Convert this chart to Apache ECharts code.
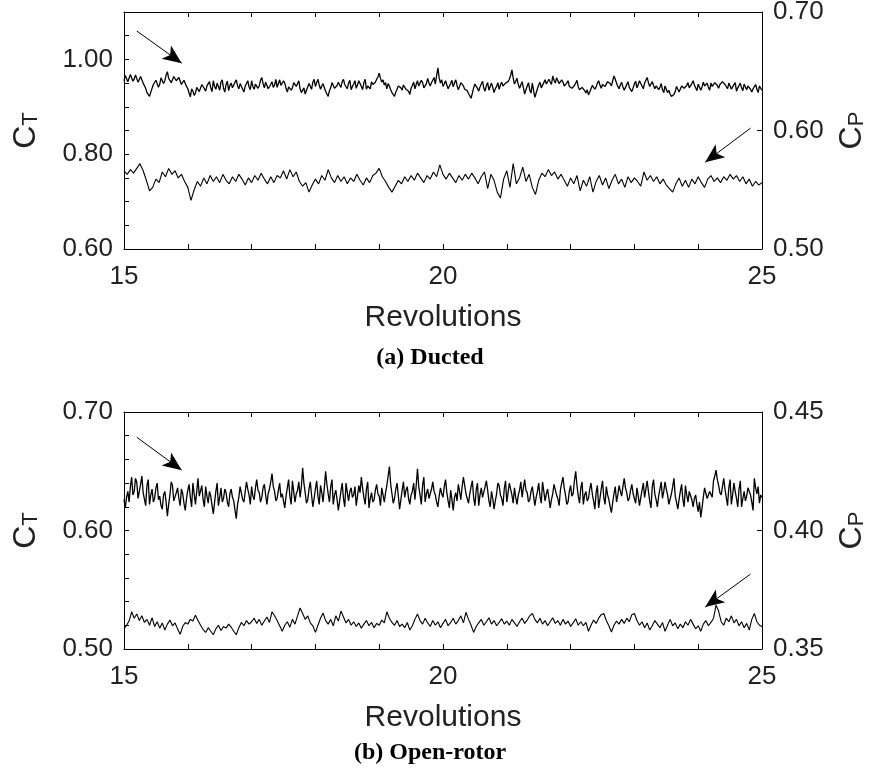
<!DOCTYPE html>
<html>
<head>
<meta charset="utf-8">
<script src="https://cdn.jsdelivr.net/npm/echarts@6/dist/echarts.min.js"></script>
<style>
  html, body { margin: 0; padding: 0; background: #fff; }
  #chart { width: 877px; height: 775px; }
</style>
</head>
<body>
<div id="chart"></div>
<script>
// ---- Sampling of the time histories (revolutions) ----
const ductedCtStart = 15, ductedCtStep = 0.02;
const ductedCpStart = 15, ductedCpStep = 0.05;
const openCtStart = 15, openCtStep = 0.02;
const openCpStart = 15, openCpStep = 0.04;

// ---- Tick labels ----
const revolutionTicks = ['15', '20', '25'];
const ductedCtTicks = ['0.60', '0.80', '1.00'];
const ductedCpTicks = ['0.50', '0.60', '0.70'];
const openCtTicks = ['0.50', '0.60', '0.70'];
const openCpTicks = ['0.35', '0.40', '0.45'];

// ---- (a) Ducted: thrust coefficient ----
const ductedCt = [
  0.955, 0.966, 0.962, 0.953, 0.957, 0.968, 0.965, 0.954, 0.959, 0.967, 0.963, 0.952, 0.956, 0.964, 0.961, 0.950, 0.947, 0.939, 0.930, 0.926,
  0.922, 0.931, 0.935, 0.947, 0.944, 0.956, 0.952, 0.941, 0.948, 0.961, 0.958, 0.949, 0.955, 0.967, 0.974, 0.960, 0.962, 0.951, 0.957, 0.964,
  0.966, 0.955, 0.951, 0.962, 0.958, 0.947, 0.944, 0.956, 0.952, 0.943, 0.938, 0.929, 0.921, 0.938, 0.933, 0.924, 0.929, 0.941, 0.945, 0.932,
  0.936, 0.947, 0.951, 0.938, 0.933, 0.944, 0.948, 0.953, 0.940, 0.932, 0.955, 0.943, 0.937, 0.950, 0.946, 0.935, 0.952, 0.957, 0.939, 0.931,
  0.947, 0.954, 0.934, 0.945, 0.950, 0.940, 0.943, 0.952, 0.957, 0.944, 0.938, 0.949, 0.946, 0.937, 0.931, 0.944, 0.949, 0.955, 0.942, 0.936,
  0.955, 0.943, 0.937, 0.948, 0.951, 0.939, 0.944, 0.956, 0.962, 0.949, 0.940, 0.952, 0.948, 0.938, 0.935, 0.947, 0.953, 0.941, 0.946, 0.958,
  0.941, 0.949, 0.957, 0.945, 0.944, 0.955, 0.950, 0.939, 0.931, 0.942, 0.946, 0.935, 0.940, 0.951, 0.954, 0.943, 0.947, 0.955, 0.938, 0.930,
  0.933, 0.940, 0.927, 0.935, 0.938, 0.949, 0.946, 0.937, 0.952, 0.958, 0.943, 0.951, 0.958, 0.946, 0.937, 0.944, 0.949, 0.940, 0.933, 0.927,
  0.922, 0.934, 0.940, 0.951, 0.947, 0.939, 0.936, 0.945, 0.952, 0.946, 0.941, 0.953, 0.958, 0.947, 0.944, 0.938, 0.950, 0.956, 0.936, 0.943,
  0.948, 0.955, 0.939, 0.946, 0.955, 0.949, 0.943, 0.936, 0.951, 0.958, 0.937, 0.944, 0.946, 0.938, 0.953, 0.947, 0.944, 0.952, 0.958, 0.963,
  0.971, 0.960, 0.952, 0.957, 0.946, 0.951, 0.938, 0.949, 0.944, 0.936, 0.930, 0.927, 0.922, 0.931, 0.937, 0.944, 0.947, 0.940, 0.935, 0.946,
  0.950, 0.937, 0.941, 0.933, 0.926, 0.939, 0.945, 0.952, 0.938, 0.947, 0.955, 0.944, 0.942, 0.956, 0.951, 0.940, 0.936, 0.949, 0.960, 0.950,
  0.944, 0.951, 0.956, 0.962, 0.948, 0.966, 0.982, 0.961, 0.950, 0.957, 0.943, 0.948, 0.955, 0.946, 0.938, 0.944, 0.949, 0.956, 0.942, 0.950,
  0.957, 0.945, 0.936, 0.943, 0.951, 0.955, 0.944, 0.937, 0.940, 0.934, 0.928, 0.924, 0.918, 0.929, 0.940, 0.948, 0.946, 0.939, 0.933, 0.942,
  0.948, 0.954, 0.939, 0.933, 0.945, 0.951, 0.935, 0.943, 0.950, 0.941, 0.930, 0.938, 0.943, 0.951, 0.937, 0.946, 0.952, 0.944, 0.941, 0.950,
  0.946, 0.953, 0.958, 0.966, 0.978, 0.961, 0.948, 0.954, 0.960, 0.947, 0.939, 0.946, 0.953, 0.940, 0.927, 0.936, 0.944, 0.951, 0.935, 0.929,
  0.950, 0.934, 0.920, 0.929, 0.938, 0.946, 0.952, 0.940, 0.944, 0.951, 0.957, 0.948, 0.946, 0.958, 0.954, 0.947, 0.965, 0.956, 0.950, 0.961,
  0.958, 0.949, 0.945, 0.957, 0.952, 0.944, 0.941, 0.950, 0.955, 0.943, 0.947, 0.939, 0.936, 0.945, 0.950, 0.956, 0.942, 0.936, 0.933, 0.941,
  0.940, 0.934, 0.929, 0.936, 0.925, 0.931, 0.938, 0.945, 0.948, 0.937, 0.942, 0.950, 0.955, 0.946, 0.939, 0.947, 0.951, 0.943, 0.946, 0.953,
  0.957, 0.949, 0.944, 0.955, 0.965, 0.958, 0.950, 0.943, 0.938, 0.946, 0.952, 0.942, 0.935, 0.941, 0.947, 0.953, 0.941, 0.937, 0.932, 0.940,
  0.948, 0.954, 0.940, 0.947, 0.955, 0.949, 0.945, 0.938, 0.950, 0.956, 0.962, 0.951, 0.943, 0.948, 0.953, 0.945, 0.938, 0.944, 0.948, 0.936,
  0.941, 0.949, 0.936, 0.930, 0.944, 0.937, 0.930, 0.935, 0.927, 0.922, 0.918, 0.926, 0.932, 0.943, 0.940, 0.931, 0.935, 0.944, 0.946, 0.939,
  0.938, 0.945, 0.951, 0.940, 0.943, 0.949, 0.955, 0.946, 0.940, 0.934, 0.948, 0.952, 0.935, 0.942, 0.952, 0.944, 0.946, 0.950, 0.941, 0.935,
  0.950, 0.943, 0.944, 0.951, 0.953, 0.945, 0.939, 0.947, 0.948, 0.953, 0.955, 0.947, 0.943, 0.938, 0.950, 0.944, 0.937, 0.942, 0.946, 0.951,
  0.933, 0.940, 0.945, 0.950, 0.940, 0.934, 0.948, 0.942, 0.936, 0.944, 0.943, 0.937, 0.931, 0.938, 0.940, 0.947, 0.937, 0.930, 0.944, 0.939, 0.935
];

// ---- (a) Ducted: power coefficient ----
const ductedCp = [
  0.566, 0.563, 0.567, 0.564, 0.568, 0.572, 0.566, 0.558, 0.549, 0.552,
  0.559, 0.556, 0.565, 0.561, 0.568, 0.563, 0.566, 0.560, 0.563, 0.557,
  0.552, 0.541, 0.550, 0.557, 0.553, 0.560, 0.555, 0.562, 0.557, 0.561,
  0.556, 0.563, 0.558, 0.555, 0.561, 0.557, 0.563, 0.559, 0.554, 0.560,
  0.556, 0.562, 0.558, 0.564, 0.559, 0.555, 0.561, 0.556, 0.562, 0.560,
  0.566, 0.559, 0.567, 0.561, 0.565, 0.557, 0.553, 0.556, 0.548, 0.554,
  0.559, 0.555, 0.562, 0.558, 0.567, 0.560, 0.556, 0.562, 0.557, 0.561,
  0.555, 0.560, 0.557, 0.563, 0.558, 0.554, 0.560, 0.556, 0.562, 0.564,
  0.568, 0.561, 0.557, 0.552, 0.548, 0.553, 0.558, 0.555, 0.561, 0.557,
  0.562, 0.558, 0.564, 0.560, 0.556, 0.562, 0.559, 0.565, 0.561, 0.571,
  0.563, 0.559, 0.564, 0.560, 0.556, 0.562, 0.558, 0.563, 0.559, 0.564,
  0.560, 0.555, 0.561, 0.565, 0.551, 0.563, 0.558, 0.548, 0.543, 0.559,
  0.566, 0.552, 0.572, 0.555, 0.560, 0.569, 0.557, 0.563, 0.552, 0.546,
  0.558, 0.564, 0.561, 0.567, 0.562, 0.565, 0.559, 0.563, 0.558, 0.553,
  0.560, 0.555, 0.562, 0.549, 0.558, 0.553, 0.561, 0.548, 0.557, 0.562,
  0.554, 0.560, 0.551, 0.558, 0.563, 0.555, 0.559, 0.552, 0.561, 0.556,
  0.560, 0.557, 0.553, 0.565, 0.558, 0.562, 0.557, 0.561, 0.555, 0.559,
  0.554, 0.551, 0.548, 0.555, 0.560, 0.553, 0.558, 0.552, 0.559, 0.555,
  0.561, 0.556, 0.552, 0.559, 0.562, 0.557, 0.560, 0.556, 0.561, 0.558,
  0.563, 0.559, 0.562, 0.557, 0.561, 0.555, 0.559, 0.553, 0.557, 0.554,
  0.556
];

// ---- (b) Open-rotor: thrust coefficient ----
const openCt = [
  0.626, 0.619, 0.628, 0.633, 0.624, 0.637, 0.645, 0.630, 0.633, 0.644, 0.641, 0.627, 0.628, 0.639, 0.646, 0.632, 0.631, 0.621, 0.638, 0.643,
  0.622, 0.630, 0.635, 0.624, 0.627, 0.636, 0.640, 0.626, 0.629, 0.621, 0.618, 0.630, 0.633, 0.624, 0.612, 0.622, 0.630, 0.641, 0.638, 0.625,
  0.625, 0.632, 0.636, 0.627, 0.621, 0.635, 0.631, 0.623, 0.617, 0.627, 0.634, 0.639, 0.628, 0.620, 0.640, 0.631, 0.622, 0.633, 0.644, 0.629,
  0.630, 0.638, 0.626, 0.620, 0.637, 0.629, 0.623, 0.633, 0.629, 0.621, 0.614, 0.624, 0.633, 0.640, 0.621, 0.628, 0.636, 0.624, 0.627, 0.635,
  0.632, 0.624, 0.620, 0.631, 0.635, 0.628, 0.625, 0.617, 0.610, 0.622, 0.628, 0.637, 0.636, 0.626, 0.624, 0.633, 0.641, 0.635, 0.630, 0.622,
  0.637, 0.629, 0.626, 0.636, 0.643, 0.634, 0.632, 0.624, 0.628, 0.636, 0.639, 0.630, 0.622, 0.631, 0.635, 0.641, 0.648, 0.637, 0.633, 0.625,
  0.627, 0.634, 0.640, 0.628, 0.631, 0.625, 0.619, 0.629, 0.636, 0.643, 0.629, 0.622, 0.642, 0.633, 0.624, 0.631, 0.634, 0.641, 0.628, 0.637,
  0.653, 0.640, 0.632, 0.623, 0.626, 0.635, 0.641, 0.630, 0.620, 0.627, 0.635, 0.642, 0.629, 0.622, 0.638, 0.632, 0.624, 0.636, 0.650, 0.639,
  0.631, 0.624, 0.637, 0.643, 0.622, 0.630, 0.634, 0.626, 0.617, 0.625, 0.633, 0.640, 0.627, 0.620, 0.640, 0.632, 0.625, 0.633, 0.636, 0.628,
  0.630, 0.637, 0.621, 0.629, 0.638, 0.632, 0.645, 0.636, 0.628, 0.622, 0.635, 0.641, 0.619, 0.627, 0.632, 0.624, 0.626, 0.634, 0.639, 0.631,
  0.629, 0.621, 0.636, 0.630, 0.624, 0.632, 0.638, 0.646, 0.654, 0.639, 0.631, 0.623, 0.627, 0.635, 0.640, 0.629, 0.618, 0.626, 0.634, 0.641,
  0.628, 0.634, 0.637, 0.627, 0.622, 0.630, 0.633, 0.640, 0.626, 0.638, 0.652, 0.637, 0.630, 0.622, 0.638, 0.645, 0.624, 0.631, 0.635, 0.627,
  0.627, 0.635, 0.641, 0.633, 0.630, 0.624, 0.620, 0.629, 0.636, 0.631, 0.628, 0.637, 0.643, 0.632, 0.625, 0.619, 0.634, 0.626, 0.617, 0.628,
  0.632, 0.625, 0.639, 0.633, 0.626, 0.637, 0.645, 0.638, 0.631, 0.627, 0.623, 0.631, 0.637, 0.642, 0.628, 0.621, 0.634, 0.640, 0.621, 0.630,
  0.636, 0.628, 0.629, 0.637, 0.642, 0.634, 0.625, 0.620, 0.633, 0.627, 0.618, 0.625, 0.631, 0.640, 0.638, 0.630, 0.627, 0.621, 0.635, 0.642,
  0.624, 0.632, 0.640, 0.635, 0.630, 0.623, 0.636, 0.628, 0.622, 0.630, 0.634, 0.641, 0.628, 0.636, 0.643, 0.634, 0.632, 0.624, 0.626, 0.633,
  0.637, 0.629, 0.621, 0.628, 0.633, 0.640, 0.629, 0.623, 0.641, 0.633, 0.625, 0.631, 0.635, 0.627, 0.619, 0.626, 0.631, 0.639, 0.638, 0.630,
  0.627, 0.621, 0.634, 0.640, 0.645, 0.636, 0.630, 0.622, 0.624, 0.633, 0.638, 0.629, 0.631, 0.642, 0.650, 0.638, 0.629, 0.623, 0.636, 0.641,
  0.622, 0.630, 0.633, 0.625, 0.627, 0.635, 0.640, 0.631, 0.625, 0.618, 0.632, 0.638, 0.619, 0.627, 0.635, 0.642, 0.628, 0.622, 0.637, 0.630,
  0.626, 0.620, 0.615, 0.624, 0.631, 0.637, 0.624, 0.630, 0.638, 0.633, 0.629, 0.637, 0.644, 0.636, 0.632, 0.625, 0.627, 0.634, 0.639, 0.631,
  0.630, 0.623, 0.636, 0.629, 0.621, 0.628, 0.634, 0.640, 0.628, 0.635, 0.642, 0.633, 0.625, 0.619, 0.637, 0.643, 0.631, 0.626, 0.620, 0.629,
  0.635, 0.641, 0.627, 0.633, 0.641, 0.635, 0.630, 0.622, 0.623, 0.631, 0.637, 0.644, 0.629, 0.624, 0.618, 0.626, 0.633, 0.639, 0.626, 0.620,
  0.638, 0.630, 0.624, 0.633, 0.632, 0.626, 0.620, 0.627, 0.630, 0.622, 0.616, 0.624, 0.611, 0.619, 0.628, 0.636, 0.635, 0.627, 0.626, 0.633,
  0.634, 0.628, 0.642, 0.646, 0.651, 0.643, 0.638, 0.632, 0.630, 0.637, 0.644, 0.635, 0.628, 0.621, 0.636, 0.643, 0.622, 0.630, 0.640, 0.633,
  0.627, 0.620, 0.635, 0.642, 0.620, 0.627, 0.633, 0.625, 0.629, 0.636, 0.637, 0.630, 0.624, 0.617, 0.644, 0.636, 0.631, 0.637, 0.623, 0.630, 0.628
];

// ---- (b) Open-rotor: power coefficient ----
const openCp = [
  0.3585, 0.3600, 0.3618, 0.3657, 0.3630, 0.3648, 0.3620, 0.3640, 0.3612, 0.3625,
  0.3600, 0.3632, 0.3595, 0.3615, 0.3588, 0.3610, 0.3580, 0.3605, 0.3622, 0.3598,
  0.3610, 0.3585, 0.3562, 0.3595, 0.3612, 0.3605, 0.3625, 0.3618, 0.3642, 0.3620,
  0.3600, 0.3582, 0.3570, 0.3590, 0.3575, 0.3560, 0.3585, 0.3600, 0.3578, 0.3595,
  0.3588, 0.3605, 0.3592, 0.3575, 0.3560, 0.3590, 0.3612, 0.3598, 0.3620, 0.3605,
  0.3615, 0.3630, 0.3608, 0.3625, 0.3600, 0.3618, 0.3635, 0.3612, 0.3657, 0.3640,
  0.3620, 0.3598, 0.3575, 0.3600, 0.3615, 0.3592, 0.3625, 0.3605, 0.3640, 0.3673,
  0.3650, 0.3625, 0.3640, 0.3610, 0.3598, 0.3570, 0.3600, 0.3630, 0.3652, 0.3620,
  0.3605, 0.3625, 0.3598, 0.3640, 0.3618, 0.3660, 0.3635, 0.3610, 0.3625, 0.3600,
  0.3615, 0.3595, 0.3610, 0.3588, 0.3605, 0.3620, 0.3598, 0.3612, 0.3590, 0.3608,
  0.3600, 0.3622, 0.3610, 0.3657, 0.3630, 0.3612, 0.3600, 0.3620, 0.3595, 0.3605,
  0.3590, 0.3612, 0.3580, 0.3598, 0.3625, 0.3648, 0.3620, 0.3605, 0.3630, 0.3610,
  0.3595, 0.3620, 0.3600, 0.3615, 0.3590, 0.3608, 0.3625, 0.3598, 0.3612, 0.3630,
  0.3605, 0.3620, 0.3640, 0.3610, 0.3655, 0.3625, 0.3600, 0.3570, 0.3595, 0.3610,
  0.3625, 0.3600, 0.3615, 0.3632, 0.3605, 0.3620, 0.3598, 0.3612, 0.3628, 0.3605,
  0.3618, 0.3600, 0.3625, 0.3610, 0.3595, 0.3615, 0.3630, 0.3608, 0.3622, 0.3640,
  0.3650, 0.3625, 0.3610, 0.3630, 0.3605, 0.3620, 0.3598, 0.3615, 0.3632, 0.3608,
  0.3620, 0.3600, 0.3625, 0.3605, 0.3618, 0.3595, 0.3610, 0.3628, 0.3600, 0.3615,
  0.3598, 0.3612, 0.3575, 0.3600, 0.3622, 0.3608, 0.3630, 0.3645, 0.3650, 0.3620,
  0.3598, 0.3572, 0.3600, 0.3618, 0.3605, 0.3625, 0.3608, 0.3630, 0.3615, 0.3645,
  0.3650, 0.3620, 0.3600, 0.3615, 0.3590, 0.3610, 0.3580, 0.3598, 0.3620, 0.3605,
  0.3590, 0.3612, 0.3575, 0.3600, 0.3625, 0.3598, 0.3610, 0.3585, 0.3605, 0.3590,
  0.3615, 0.3600, 0.3625, 0.3605, 0.3585, 0.3598, 0.3575, 0.3605, 0.3620, 0.3598,
  0.3612, 0.3630, 0.3685, 0.3660, 0.3615, 0.3600, 0.3630, 0.3615, 0.3640, 0.3610,
  0.3625, 0.3598, 0.3615, 0.3590, 0.3608, 0.3580, 0.3625, 0.3650, 0.3615, 0.3600,
  0.3595
];

// ---- Annotation arrows: [tail, head] in data coordinates ----
const ductedCtArrow = [[15.2, 1.060], [15.905, 0.992]];
const ductedCpArrow = [[24.82, 0.602], [24.11, 0.5733]];
const openCtArrow = [[15.2, 0.6787], [15.905, 0.6509]];
const openCpArrow = [[24.82, 0.3816], [24.11, 0.3677]];

const SANS = '"Liberation Sans", Arial, Helvetica, sans-serif';
const SERIF = '"Liberation Serif", "Times New Roman", serif';

function toXY(values, start, step) {
  return values.map((v, i) => [start + i * step, v]);
}

function labelFrom(list) {
  return function (v) {
    const s = v.toFixed(2);
    return list.indexOf(s) >= 0 ? s : '';
  };
}

function revLabel(v) {
  const r = Math.round(v);
  return (Math.abs(v - r) < 1e-6 && revolutionTicks.indexOf(String(r)) >= 0) ? String(r) : '';
}

const axisLineStyle = { lineStyle: { color: '#000', width: 1 } };
const tickStyle = { inside: true, length: 5, lineStyle: { color: '#000', width: 1 } };

function xAxes(gridIndex) {
  return [
    {
      type: 'value', gridIndex, position: 'bottom', min: 15, max: 25, interval: 1,
      axisLine: axisLineStyle, axisTick: tickStyle, splitLine: { show: false },
      axisLabel: { formatter: revLabel, color: '#222', fontSize: 26, fontFamily: SANS, margin: 15 },
      name: 'Revolutions', nameLocation: 'middle', nameGap: 54,
      nameTextStyle: { color: '#222', fontSize: 30, fontFamily: SANS }
    },
    {
      type: 'value', gridIndex, position: 'top', min: 15, max: 25, interval: 1,
      axisLine: axisLineStyle, axisTick: tickStyle, splitLine: { show: false },
      axisLabel: { show: false }
    }
  ];
}

function yAxis(gridIndex, side, min, max, interval, ticks, sub, gap) {
  return {
    type: 'value', gridIndex, position: side, min, max, interval,
    axisLine: { show: true, lineStyle: { color: '#000', width: 1 } },
    axisTick: tickStyle, splitLine: { show: false },
    axisLabel: { formatter: labelFrom(ticks), color: '#222', fontSize: 26, fontFamily: SANS, margin: 11 },
    name: '{c|C}{s|' + sub + '}', nameLocation: 'middle', nameRotate: 90, nameGap: gap,
    nameTextStyle: {
      rich: {
        c: { fontSize: 32, fontFamily: SANS, color: '#222' },
        s: { fontSize: 22, fontFamily: SANS, color: '#222', verticalAlign: 'bottom', lineHeight: 2 }
      }
    }
  };
}

function arrow(pts) {
  return {
    silent: true, animation: false,
    symbol: ['none', 'arrow'],
    lineStyle: { color: '#000', width: 1, type: 'solid' },
    label: { show: false },
    emphasis: { disabled: true },
    data: [[
      { coord: pts[0], symbol: 'none' },
      { coord: pts[1], symbol: 'arrow', symbolSize: [12, 19] }
    ]]
  };
}

function trace(data, xi, yi, pts, width) {
  return {
    type: 'line', xAxisIndex: xi, yAxisIndex: yi, data,
    symbol: 'none', silent: true, animation: false,
    lineStyle: { color: '#000', width },
    markLine: arrow(pts)
  };
}

const chart = echarts.init(document.getElementById('chart'), null, { renderer: 'canvas' });
chart.setOption({
  backgroundColor: '#fff',
  animation: false,
  grid: [
    { left: 124, top: 12, width: 638, height: 237, outerBoundsMode: 'none' },
    { left: 124, top: 412, width: 638, height: 237, outerBoundsMode: 'none' }
  ],
  xAxis: [...xAxes(0), ...xAxes(1)],
  yAxis: [
    yAxis(0, 'left', 0.6, 1.1, 0.05, ductedCtTicks, 'T', 82),
    yAxis(0, 'right', 0.5, 0.7, 0.1, ductedCpTicks, 'P', 74),
    yAxis(1, 'left', 0.5, 0.7, 0.02, openCtTicks, 'T', 82),
    yAxis(1, 'right', 0.35, 0.45, 0.05, openCpTicks, 'P', 74)
  ],
  series: [
    trace(toXY(ductedCt, ductedCtStart, ductedCtStep), 0, 0, ductedCtArrow, 1.3),
    trace(toXY(ductedCp, ductedCpStart, ductedCpStep), 0, 1, ductedCpArrow, 1.1),
    trace(toXY(openCt, openCtStart, openCtStep), 2, 2, openCtArrow, 1.3),
    trace(toXY(openCp, openCpStart, openCpStep), 2, 3, openCpArrow, 1.1)
  ],
  graphic: [
    { type: 'text', x: 430, y: 358, silent: true,
      style: { text: '(a) Ducted', fill: '#000', font: 'bold 24px ' + SERIF, textAlign: 'center', textVerticalAlign: 'middle' } },
    { type: 'text', x: 430, y: 753, silent: true,
      style: { text: '(b) Open-rotor', fill: '#000', font: 'bold 24px ' + SERIF, textAlign: 'center', textVerticalAlign: 'middle' } }
  ]
});
</script>
</body>
</html>
